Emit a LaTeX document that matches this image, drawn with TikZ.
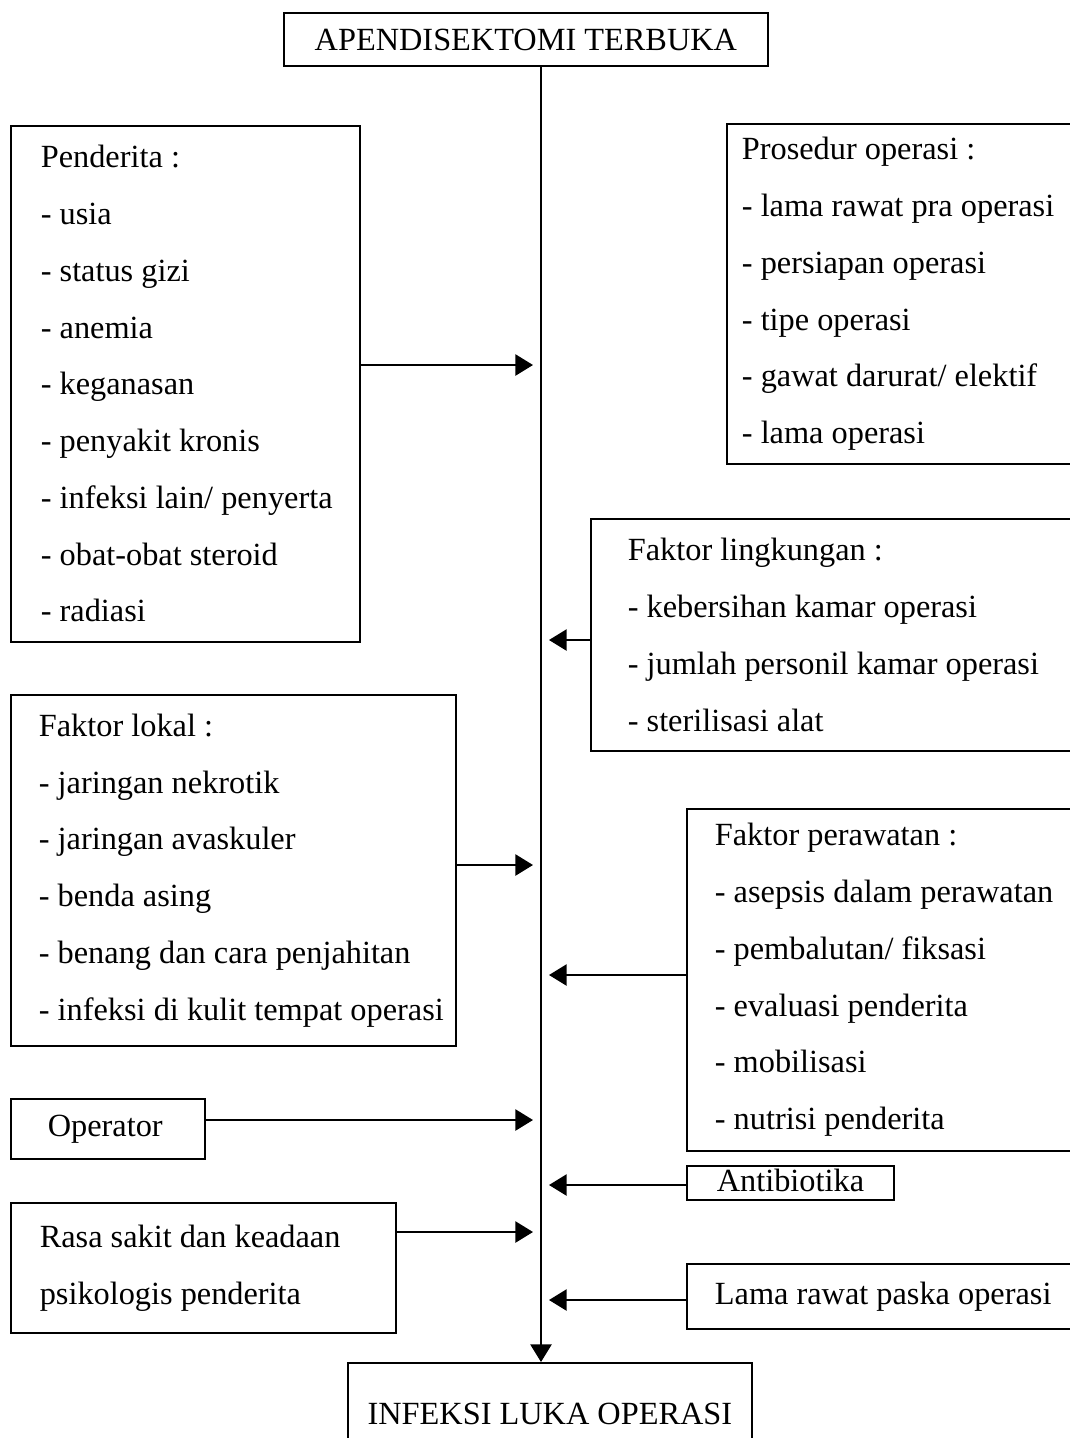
\documentclass[tikz,border=0pt]{standalone}
\usepackage{fontspec}
\setmainfont{Liberation Serif}
\usetikzlibrary{arrows.meta,positioning,calc}

\begin{document}
\begin{tikzpicture}[x=0.02cm,y=-0.02cm,
    font=\fontsize{18.4}{32.3}\selectfont,
    cbox/.style={draw,line width=1.1pt,anchor=north west,inner sep=0pt,align=center},
    lbox/.style={draw,line width=1.1pt,anchor=north west,inner sep=0pt,align=left,
                 execute at begin node={\leftskip=#1\rightskip=0pt plus 1fil
                   \spaceskip=0pt\xspaceskip=0pt\hyphenpenalty=10000\relax}},
    arr/.style={-{Triangle[length=10pt,width=12pt]},line width=1.1pt}]
  \useasboundingbox (0,0) rectangle (1070,1438);
  \node[cbox,minimum width=9.68cm,minimum height=1.06cm] (bedah) at (283,12) {APENDISEKTOMI TERBUKA};
  \node[cbox,minimum width=8.08cm,minimum height=2.04cm] (ilo) at (347,1362) {INFEKSI LUKA OPERASI};
  \node[lbox=17pt,text width=6.98cm,minimum height=10.32cm] (pend) at (10,125)
    {Penderita :\\- usia\\- status gizi\\- anemia\\- keganasan\\- penyakit kronis\\- infeksi lain/ penyerta\\- obat-obat steroid\\- radiasi};
  \node[lbox=8.5pt,text width=7.08cm,minimum height=6.8cm] (pros) at (726,123)
    {Prosedur operasi :\\- lama rawat pra operasi\\- persiapan operasi\\- tipe operasi\\- gawat darurat/ elektif\\- lama operasi};
  \node[lbox=21pt,text width=9.8cm,minimum height=4.64cm] (lingk) at (590,518)
    {Faktor lingkungan :\\- kebersihan kamar operasi\\- jumlah personil kamar operasi\\- sterilisasi alat};
  \node[lbox=15.9pt,text width=8.9cm,minimum height=7.02cm] (lokal) at (10,694)
    {Faktor lokal :\\- jaringan nekrotik\\- jaringan avaskuler\\- benda asing\\- benang dan cara penjahitan\\- infeksi di kulit tempat operasi};
  \node[lbox=15.9pt,text width=7.88cm,minimum height=6.84cm] (rawat) at (686,808)
    {Faktor perawatan :\\- asepsis dalam perawatan\\- pembalutan/ fiksasi\\- evaluasi penderita\\- mobilisasi\\- nutrisi penderita};
  \node[lbox=21pt,text width=3.88cm,minimum height=1.2cm] (oper) at (10,1098) {Operator};
  \node[lbox=17pt,text width=4.14cm,minimum height=0.68cm,text depth=3pt] (anti) at (686,1165) {Antibiotika};
  \node[lbox=16.4pt,text width=7.7cm,minimum height=2.6cm] (rasa) at (10,1202)
    {Rasa sakit dan keadaan\\psikologis penderita};
  \node[lbox=15.9pt,text width=7.88cm,minimum height=1.3cm] (lama) at (686,1263) {Lama rawat paska operasi};
  % trunk and arrow ends
  \coordinate (trunk) at (541,0);
  \coordinate (a1) at (533,365);
  \coordinate (a2) at (549,640);
  \coordinate (a3) at (533,865);
  \coordinate (a4) at (549,975);
  \coordinate (a5) at (533,1120);
  \coordinate (a6) at (549,1185);
  \coordinate (a7) at (533,1232);
  \coordinate (a8) at (549,1300);
  \draw[arr] (bedah.south -| trunk) -- (ilo.north -| trunk);
  \draw[arr] (pend.east |- a1) -- (a1);
  \draw[arr] (lingk.west |- a2) -- (a2);
  \draw[arr] (lokal.east |- a3) -- (a3);
  \draw[arr] (rawat.west |- a4) -- (a4);
  \draw[arr] (oper.east |- a5) -- (a5);
  \draw[arr] (anti.west |- a6) -- (a6);
  \draw[arr] (rasa.east |- a7) -- (a7);
  \draw[arr] (lama.west |- a8) -- (a8);
\end{tikzpicture}
\end{document}
